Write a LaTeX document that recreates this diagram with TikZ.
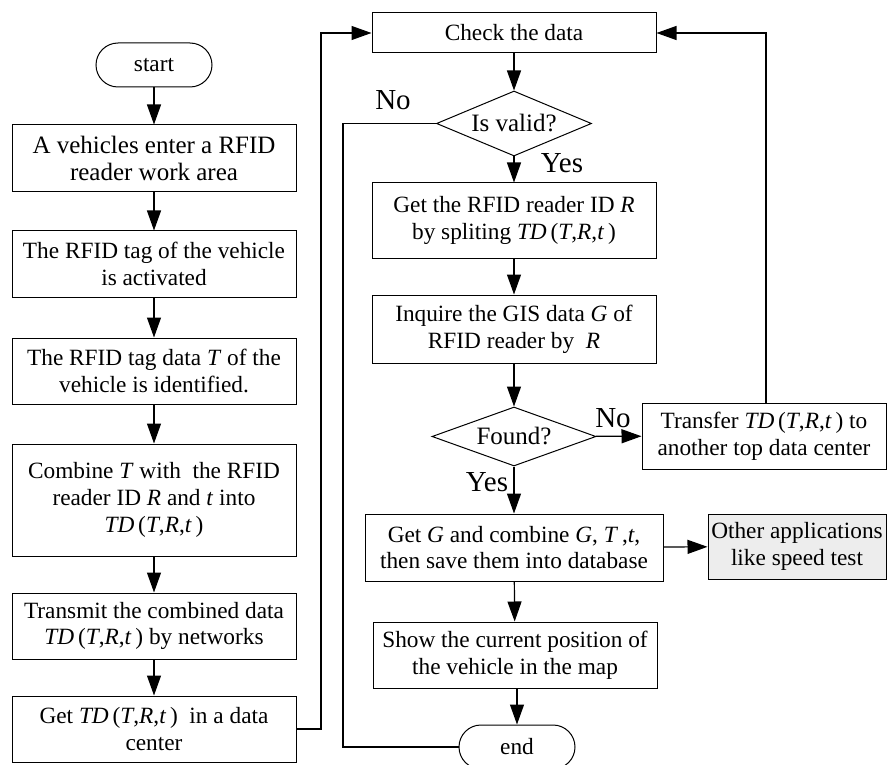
\documentclass[tikz,border=0pt]{standalone}
\usepackage{fontspec}
\setmainfont{Liberation Serif}
\usetikzlibrary{shapes.geometric,arrows.meta}
\newcommand{\tdrt}{\textit{TD}\,(\textit{T},\textit{R},\textit{t}\,)}
\begin{document}
\begin{tikzpicture}[x=1pt,y=-1pt,
  every node/.style={font=\fontsize{23.3}{26.7}\selectfont},
  proc/.style={draw, line width=1pt, minimum width=284pt, inner sep=2pt, align=center},
  term/.style={draw, line width=1pt, rounded corners=22pt, minimum width=116pt, minimum height=44pt, inner sep=0pt},
  dec/.style={draw, line width=1pt, diamond, inner sep=0pt, shape aspect=2.4, font=\fontsize{25}{28}\selectfont},
  arr/.style={line width=1.2pt, -{Triangle[length=20pt,width=14pt]}},
  ln/.style={line width=1.2pt},
  lbl/.style={inner sep=0pt, font=\fontsize{29}{32}\selectfont}
]
\useasboundingbox (0,0) rectangle (887,765);
% left column
\node[term] (start) at (154,65) {start};
\node[proc, minimum height=67pt, font=\fontsize{25}{27}\selectfont] (b1) at (154,158.5) {A vehicles enter a RFID\\reader work area};
\node[proc, minimum height=66pt] (b2) at (154,264) {The RFID tag of the vehicle\\is activated};
\node[proc, minimum height=66pt] (b3) at (154,371) {The RFID tag data \textit{T} of the\\vehicle is identified.};
\node[proc, minimum height=112pt] (b4) at (154,500) {Combine \textit{T} with\ \ the RFID\\reader ID \textit{R} and \textit{t} into\\\tdrt};
\node[proc, minimum height=66pt] (b5) at (154,626) {Transmit the combined data\\\tdrt{} by networks};
\node[proc, minimum height=66pt] (b6) at (154,729) {Get \tdrt\ \ in a data\\center};
% middle column
\node[proc, minimum height=40pt] (check) at (514,33) {Check the data};
\node[dec, minimum width=155pt, minimum height=65pt] (valid) at (514,123.5) {Is valid?};
\node[proc, minimum height=75pt] (bR) at (514,220.5) {Get the RFID reader ID \textit{R}\\by spliting \tdrt};
\node[proc, minimum height=68pt] (bG) at (514,329) {Inquire the GIS data \textit{G} of\\RFID reader by\ \ \textit{R}};
\node[dec, minimum width=164pt, minimum height=59pt] (found) at (514,436.5) {Found?};
\node[proc, minimum width=298pt, minimum height=67pt] (bS) at (514,547.5) {Get \textit{G} and combine \textit{G}, \textit{T}\,,\textit{t},\\then save them into database};
\node[proc, minimum height=66pt] (bW) at (515,655) {Show the current position of\\the vehicle in the map};
\node[term] (end) at (517,747) {end};
% right column
\node[proc, minimum width=244pt, minimum height=66pt] (tr) at (764,436) {Transfer \tdrt{} to\\another top data center};
\node[proc, minimum width=178pt, minimum height=65pt, fill=black!7] (oth) at (797,546.5) {Other applications\\like speed test};
% coordinates
\coordinate (c1) at (321,729);
\coordinate (c2) at (321,33);
\coordinate (c3) at (343,123.5);
\coordinate (c4) at (343,747);
\coordinate (c5) at (766,33);
% connectors
\draw[arr] (start) -- (b1);
\draw[arr] (b1) -- (b2);
\draw[arr] (b2) -- (b3);
\draw[arr] (b3) -- (b4);
\draw[arr] (b4) -- (b5);
\draw[arr] (b5) -- (b6);
\draw[arr] (b6.east) -- (c1) -- (c2) -- (check.west);
\draw[arr] (check) -- (valid);
\draw[arr] (valid) -- (bR);
\draw[arr] (bR) -- (bG);
\draw[arr] (bG) -- (found);
\draw[arr] (found) -- (bS);
\draw[arr] (bS) -- (bW);
\draw[arr] (bW.south -| end.north) -- (end);
\draw[arr] (found) -- (tr);
\draw[arr] (bS) -- (oth);
\draw[arr] (tr.north -| c5) -- (c5) -- (check.east);
\draw[ln] (valid.west) -- (c3) -- (c4) -- (end.west);
% labels
\node[lbl] (lno1) at (393,100) {No};
\node[lbl] (lyes1) at (562,163) {Yes};
\node[lbl] (lno2) at (613,418) {No};
\node[lbl] (lyes2) at (487,482) {Yes};
\end{tikzpicture}
\end{document}
